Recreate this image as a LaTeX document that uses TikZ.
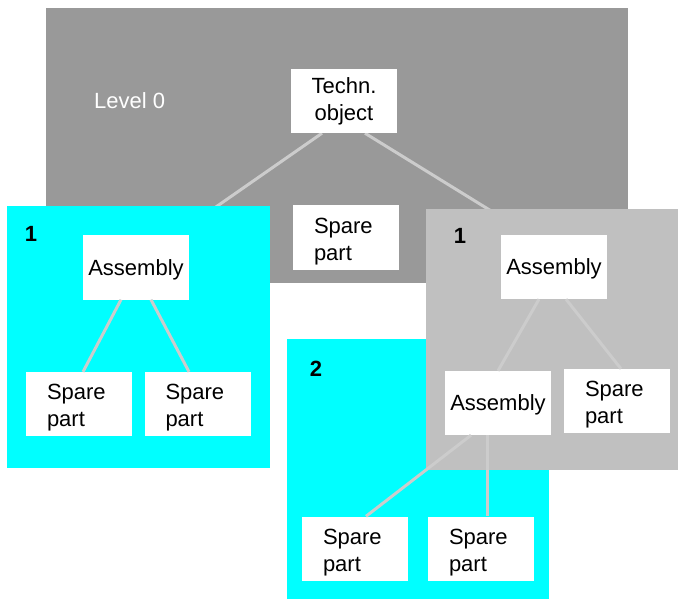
\documentclass[tikz,border=0pt]{standalone}
\usepackage{xcolor}
\usepackage{fontspec}
\setmainfont{Liberation Sans}
\usepackage{tikz}
\definecolor{lvlgray}{HTML}{999999}
\definecolor{lvlcyan}{HTML}{00FFFF}
\definecolor{lvllight}{HTML}{C0C0C0}
\definecolor{wiregray}{HTML}{CCCCCC}
\pgfdeclarelayer{back}
\pgfdeclarelayer{boxes}
\pgfsetlayers{back,boxes,main}

\begin{document}
\begin{tikzpicture}[x=1pt,y=-1pt,
  part/.style={fill=white,minimum width=106pt,minimum height=64pt,inner sep=0pt,
    align=left,font=\fontsize{22}{27}\selectfont},
  spare/.style={part,text width=64pt,text height=23pt},
  asm/.style={part,text height=20pt},
  lvl/.style={inner sep=0pt,font=\fontsize{22}{27}\selectfont\bfseries},
  wire/.style={wiregray,line width=3pt}]
  \useasboundingbox (0,0) rectangle (678,599);
  % nodes
  \node[part,align=center] (techn) at (344,101) {Techn.\\object};
  \node[spare] (spare0) at (346,237.5) {Spare\\part};
  \node[asm] (asmA) at (136,267.5) {Assembly};
  \node[spare] (partA1) at (79,404) {Spare\\part};
  \node[spare] (partA2) at (197.5,404) {Spare\\part};
  \node[asm] (asmB) at (554,267) {Assembly};
  \node[asm] (asmC) at (498,403) {Assembly};
  \node[spare] (partB) at (617,401) {Spare\\part};
  \node[spare] (partC1) at (355,548.5) {Spare\\part};
  \node[spare] (partC2) at (481,548.5) {Spare\\part};
  \node[lvl,font=\fontsize{22}{27}\selectfont,text=white,anchor=west] (lvl0) at (94,101) {Level 0};
  \node[lvl] (lvlA) at (31,234) {1};
  \node[lvl] (lvlB) at (460,236) {1};
  \node[lvl] (lvlC) at (316,369) {2};
  \begin{pgfonlayer}{back}
    \fill[lvlgray] (46,8) rectangle (628,283);
    \draw[wire] ([xshift=-22pt]techn.south) -- ([xshift=-14pt]asmA.north east);
    \draw[wire] ([xshift=21pt]techn.south) -- ([xshift=29pt]asmB.north west);
  \end{pgfonlayer}
  \begin{pgfonlayer}{boxes}
    \fill[lvlcyan] (7,206) rectangle (270,468);
    \fill[lvlcyan] (287,339) rectangle (549,599);
    \fill[lvllight] (426,209) rectangle (678,470);
  \end{pgfonlayer}
  % connectors
  \draw[wire] ([xshift=-15pt]asmA.south) -- ([xshift=4pt]partA1.north);
  \draw[wire] ([xshift=15pt]asmA.south) -- ([xshift=-8.5pt]partA2.north);
  \draw[wire] ([xshift=-15pt]asmB.south) -- (asmC.north);
  \draw[wire] ([xshift=12pt]asmB.south) -- ([xshift=4pt]partB.north);
  \draw[wire] ([xshift=-27pt]asmC.south) -- ([xshift=11pt]partC1.north);
  \draw[wire] ([xshift=-11pt]asmC.south) -- ([xshift=6pt]partC2.north);
\end{tikzpicture}
\end{document}
